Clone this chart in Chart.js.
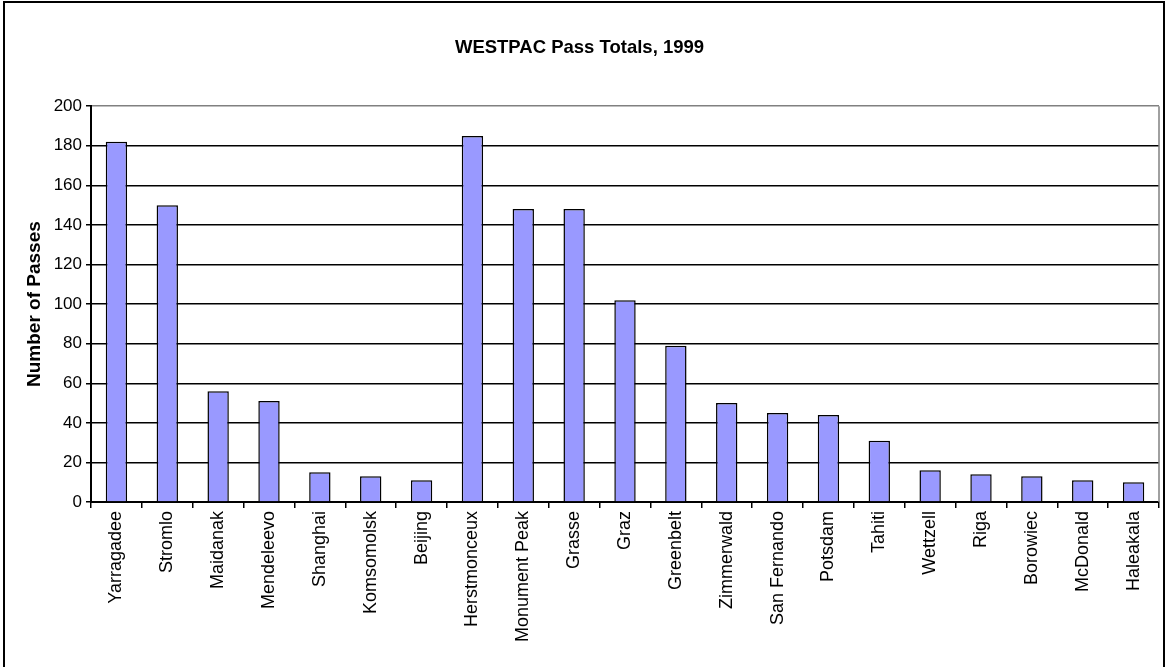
<!DOCTYPE html>
<html>
<head>
<meta charset="utf-8">
<script src="https://cdn.jsdelivr.net/npm/chart.js@4/dist/chart.umd.min.js"></script>
<style>
  html, body { margin: 0; padding: 0; background: #fff; }
  #wrap { position: absolute; left: 0; top: 0; width: 1167px; height: 667px; }
</style>
</head>
<body>
<div id="wrap"><canvas id="c" width="1167" height="667"></canvas></div>
<script>
const categories = ["Yarragadee", "Stromlo", "Maidanak", "Mendeleevo", "Shanghai", "Komsomolsk", "Beijing",
  "Herstmonceux", "Monument Peak", "Grasse", "Graz", "Greenbelt", "Zimmerwald", "San Fernando",
  "Potsdam", "Tahiti", "Wettzell", "Riga", "Borowiec", "McDonald", "Haleakala"];
const passes = [182, 150, 56, 51, 15, 13, 11, 185, 148, 148, 102, 79, 50, 45, 44, 31, 16, 14, 13, 11, 10];
const yTicks = [0, 20, 40, 60, 80, 100, 120, 140, 160, 180, 200];
const chartTitle = "WESTPAC Pass Totals, 1999";
const yAxisTitle = "Number of Passes";

const FONT = "'Liberation Sans', Arial, sans-serif";

const framePlugin = {
  id: 'frame',
  beforeDraw(chart) {
    const ctx = chart.ctx;
    ctx.save();
    ctx.fillStyle = '#fff';
    ctx.fillRect(0, 0, chart.width, chart.height);
    ctx.strokeStyle = '#000';
    ctx.lineWidth = 2;
    ctx.beginPath();
    ctx.moveTo(4, 680);
    ctx.lineTo(4, 2);
    ctx.lineTo(1164, 2);
    ctx.lineTo(1164, 680);
    ctx.stroke();
    ctx.restore();
  },
  afterDatasetsDraw(chart) {
    const a = chart.chartArea;
    const ctx = chart.ctx;
    ctx.save();
    ctx.strokeStyle = '#808080';
    ctx.lineWidth = 1.5;
    ctx.beginPath();
    ctx.moveTo(a.right, a.top);
    ctx.lineTo(a.right, a.bottom);
    ctx.stroke();
    ctx.restore();
  }
};

new Chart(document.getElementById('c'), {
  type: 'bar',
  data: {
    labels: categories,
    datasets: [{
      data: passes,
      backgroundColor: '#9999FF',
      borderColor: '#000',
      borderWidth: 1.5,
      barPercentage: 0.42,
      categoryPercentage: 1.0
    }]
  },
  options: {
    responsive: false,
    animation: false,
    layout: { padding: { left: 0, right: 8, top: 0, bottom: 0 } },
    plugins: {
      legend: { display: false },
      tooltip: { enabled: false },
      title: {
        display: true,
        text: chartTitle,
        color: '#000',
        font: { family: FONT, size: 18.5, weight: 'bold' },
        padding: { top: 37, bottom: 47 }
      }
    },
    scales: {
      x: {
        offset: true,
        grid: {
          offset: true,
          drawOnChartArea: false,
          drawTicks: true,
          tickLength: 6,
          color: '#000',
          lineWidth: 1.5
        },
        border: { display: true, color: '#000', width: 2 },
        ticks: {
          autoSkip: false,
          minRotation: 90,
          maxRotation: 90,
          padding: 3,
          color: '#000',
          font: { family: FONT, size: 18 }
        },
        afterFit(scale) { scale.height = 165; }
      },
      y: {
        min: 0,
        max: 200,
        afterBuildTicks(scale) { scale.ticks = yTicks.map(v => ({ value: v })); },
        grid: {
          color: (c) => (c.tick && c.tick.value === 200 ? '#808080' : '#000'),
          tickColor: '#000',
          lineWidth: 1.5,
          drawTicks: true,
          tickLength: 5
        },
        border: { display: true, color: '#000', width: 2 },
        ticks: {
          padding: 4,
          color: '#000',
          font: { family: FONT, size: 17 }
        },
        title: {
          display: true,
          text: yAxisTitle,
          color: '#000',
          font: { family: FONT, size: 19, weight: 'bold' },
          padding: { top: 23, bottom: 0 }
        },
        afterFit(scale) { scale.width = 91; }
      }
    }
  },
  plugins: [framePlugin]
});
</script>
</body>
</html>
